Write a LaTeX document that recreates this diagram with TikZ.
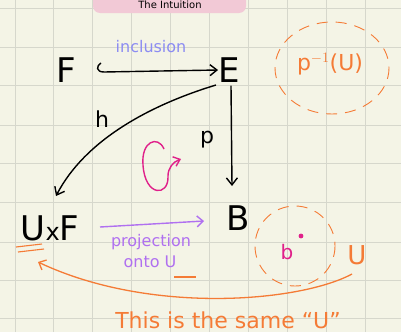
\documentclass[tikz,border=0pt]{standalone}
\usepackage{fontspec}
\setmainfont{DejaVu Sans}
\usetikzlibrary{arrows.meta}
\definecolor{paper}{HTML}{F4F4E6}
\definecolor{gridc}{HTML}{D6D7CC}
\definecolor{orng}{HTML}{F47B36}
\definecolor{purp}{HTML}{B070F0}
\definecolor{bluev}{HTML}{8C8CF2}
\definecolor{magn}{HTML}{E0208A}
\definecolor{pinkbox}{HTML}{F2C9D6}
\tikzset{
  big/.style={font=\fontsize{34}{36}\selectfont, inner sep=0pt},
  small/.style={font=\fontsize{16}{17}\selectfont, inner sep=0pt},
  lbl/.style={font=\fontsize{22}{24}\selectfont, inner sep=0pt},
  map/.style={line width=1.4pt, black, -{Straight Barb[length=7pt,width=11pt]}},
  dashc/.style={orng, line width=0.9pt, dash pattern=on 11pt off 8pt},
}
\begin{document}
\begin{tikzpicture}[x=1pt,y=-1pt]
\useasboundingbox (0,0) rectangle (401,332);
\fill[paper] (0,0) rectangle (401,332);
\foreach \x in {15,53,92,131,170,209,248,287,326,365} \draw[gridc, line width=0.9pt] (\x,0) -- (\x,332);
\foreach \y in {8,47,85,125,163,202,242,280,318} \draw[gridc, line width=0.9pt] (0,\y) -- (401,\y);
% pink title box
\begin{scope}
\clip (0,0) rectangle (401,332);
\fill[pinkbox, rounded corners=7pt] (93,-20) rectangle (246,13);
\end{scope}
\node[font=\fontsize{10}{11}\selectfont, text=black, inner sep=0pt, anchor=base] (title) at (170,9) {The Intuition};
% nodes
\node[big] (F) at (66,70) {F};
\node[big] (E) at (229,70) {E};
\node[big] (UF) at (50,228) {U{\fontsize{24}{26}\selectfont x}F};
\node[big] (B) at (238,218) {B};
\coordinate (hookst) at (101,63);
% inclusion
\draw[map] (hookst) .. controls (96,66) and (96,72) .. (104,72) -- (E.west);
\node[small, text=bluev] (incl) at (151,47) {inclusion};
% h
\coordinate (hs) at (216,85);
\coordinate (he) at (56,196);
\draw[map] (hs) .. controls (150,105) and (85,140) .. (he);
\node[lbl] (h) at (102,119) {h};
% p
\coordinate (pe) at (232,186);
\draw[map] (E.south) ++(2,3) -- (pe);
\node[lbl] (p) at (207,140) {p};
% circle arrow
\coordinate (cs) at (164,149);
\coordinate (ce) at (181,159);
\draw[magn, line width=1.4pt, -{Straight Barb[length=6pt,width=10pt]}] (cs) .. controls (158,135) and (141,141) .. (143,165) .. controls (145,197) and (169,197) .. (168,176) .. controls (168,168) and (173,162) .. (ce);
% projection
\coordinate (ps) at (100,227);
\draw[purp, line width=1.4pt, -{Straight Barb[length=6pt,width=11pt]}] (ps) -- (204,221);
\node[small, text=purp] (proj) at (151,242) {projection};
\node[small, text=purp] (onto) at (150,262) {onto U};
\draw[orng, line width=1.1pt] (174,277) -- (196,277);
% U underline
\draw[orng, line width=1.1pt] (16,247) -- (42,244);
\draw[orng, line width=1.1pt] (18,252) -- (44,249);
% b circle
\draw[dashc] (295,246) circle (40);
\node[font=\fontsize{20}{22}\selectfont, text=magn, inner sep=0pt] (b) at (287,252) {b};
\fill[magn] (301,236) circle (2.4);
\node[font=\fontsize{26}{28}\selectfont, text=orng, inner sep=0pt] (U) at (357,255) {U};
% curved arrow to U
\coordinate (us) at (352,274);
\coordinate (uend) at (38,262);
\draw[orng, line width=1.3pt, -{Straight Barb[length=6pt,width=11pt]}] (us) .. controls (300,302) and (150,315) .. (uend);
\node[font=\fontsize{22}{24}\selectfont, text=orng, inner sep=0pt] (same) at (228,320) {This is the same “U”};
% p^-1(U)
\draw[dashc] (332,68) ellipse (57 and 46);
\node[font=\fontsize{22}{24}\selectfont, text=orng, inner sep=0pt] (pinv) at (330,64) {p$^{-1}$(U)};
\end{tikzpicture}
\end{document}
